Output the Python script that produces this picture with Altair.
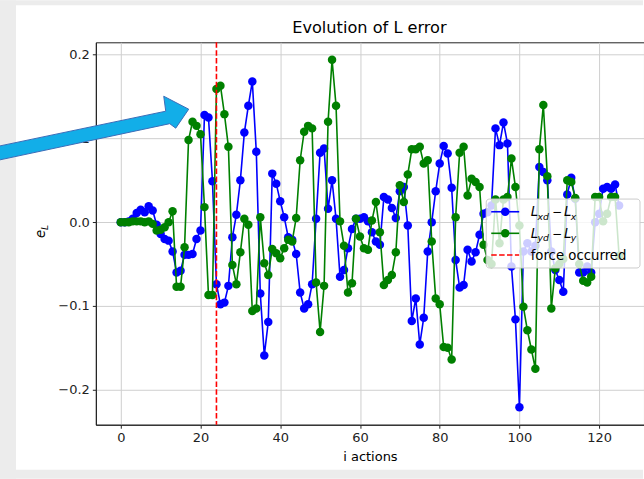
import altair as alt
import pandas as pd

# ---- data -------------------------------------------------------------
steps = list(range(126))

err_x = [
    0.0, 0.0, 0.001, 0.004, 0.011, 0.015, 0.012, 0.019, 0.014, -0.003,
    -0.014, -0.02, -0.022, -0.035, -0.06, -0.058, -0.039, -0.039, -0.038, -0.02,
    -0.01, 0.128, 0.125, 0.049, -0.074, -0.098, -0.096, -0.076, -0.018, 0.009,
    0.05, 0.107, 0.139, 0.168, 0.084, -0.085, -0.159, -0.119, 0.058, 0.046,
    0.025, 0.006, -0.018, -0.021, -0.038, -0.084, -0.103, -0.098, -0.074, 0.004,
    0.083, 0.088, 0.016, 0.05, 0.004, -0.065, -0.057, -0.031, -0.008, 0.004,
    0.004, 0.006, 0.001, -0.012, -0.023, -0.027, 0.030, 0.027, 0.017, 0.005,
    0.037, 0.042, -0.004, -0.118, -0.091, -0.146, -0.114, -0.035, 0.0, 0.037,
    0.070, 0.091, 0.082, 0.041, -0.045, -0.078, -0.075, -0.033, -0.047, -0.036,
    -0.015, 0.010, 0.012, 0.02, 0.112, 0.092, 0.119, 0.094, -0.053, -0.116,
    -0.221, -0.035, -0.025, -0.035, -0.028, 0.066, 0.06, 0.05, -0.035, -0.057,
    -0.069, -0.083, 0.033, 0.053, 0.028, -0.06, -0.06, -0.053, -0.06, 0.0,
    0.01, 0.04, 0.042, 0.04, 0.045, 0.02,
]

err_y = [
    0.0, 0.0, 0.0, 0.001, 0.001, 0.001, 0.0, 0.001, -0.002, -0.01,
    -0.009, -0.006, 0.0, 0.013, -0.077, -0.077, -0.03, 0.098, 0.12, 0.115,
    0.105, 0.018, -0.087, -0.087, 0.159, 0.163, 0.129, 0.09, -0.051, -0.074,
    -0.036, 0.004, -0.003, -0.106, -0.103, 0.006, -0.049, -0.063, -0.032, -0.037,
    -0.043, -0.031, -0.021, -0.023, 0.005, 0.074, 0.108, 0.115, 0.112, -0.072,
    -0.131, -0.076, 0.120, 0.194, 0.139, 0.001, -0.028, -0.084, -0.073, 0.004,
    -0.017, -0.031, -0.033, 0.002, 0.024, -0.012, -0.075, -0.069, -0.063, -0.036,
    0.044, 0.024, 0.057, 0.087, 0.087, 0.090, 0.070, 0.074, -0.023, -0.091,
    -0.098, -0.149, -0.150, -0.164, 0.006, 0.083, 0.090, 0.032, 0.052, 0.048,
    0.042, -0.027, -0.045, -0.05, 0.027, -0.025, 0.027, 0.03, 0.076, 0.042,
    -0.004, -0.101, -0.129, -0.152, -0.175, 0.087, 0.140, 0.055, -0.103, -0.055,
    -0.05, -0.044, 0.050, 0.048, 0.029, -0.05, -0.07, -0.072, -0.065, 0.03,
    0.03, 0.001, 0.01, 0.03, 0.03, -0.04,
]

force_step = [24]

x_ticks = [0, 20, 40, 60, 80, 100, 120]
y_ticks = [-0.2, -0.1, 0.0, 0.1, 0.2]

# ---- scales (matplotlib-like 5% margins) -----------------------------
def padded(lo, hi, frac=0.05):
    r = hi - lo
    return [lo - frac * r, hi + frac * r]

x_dom = padded(min(steps), max(steps))
y_dom = padded(min(err_x + err_y), max(err_x + err_y))

FONT = "DejaVu Sans"
W, H = 549, 383
PAD_L, PAD_T = 96, 42
MARK_SIZE = 72

df = pd.DataFrame({"i": steps, "ex": err_x, "ey": err_y})
one = pd.DataFrame({"k": [0]})

xs = alt.Scale(domain=x_dom, nice=False, zero=False)
ys = alt.Scale(domain=y_dom, nice=False, zero=False)

x_axis = alt.Axis(values=x_ticks, title="i actions", grid=True, format="d",
                  titlePadding=6)
y_axis = alt.Axis(values=y_ticks, title=None, grid=True,
                  labelExpr="datum.value == 0 ? '0.0' : replace(format(datum.value, '.1f'), '-', '\u2212')")

base = alt.Chart(df)

blue_line = base.mark_line(color="#0000ff", strokeWidth=1.6).encode(
    x=alt.X("i:Q", scale=xs, axis=x_axis),
    y=alt.Y("ex:Q", scale=ys, axis=y_axis),
)
blue_pts = base.mark_point(filled=True, color="#0000ff", size=MARK_SIZE, opacity=1).encode(
    x="i:Q", y="ex:Q")
green_line = base.mark_line(color="#008000", strokeWidth=1.6).encode(
    x="i:Q", y="ey:Q")
green_pts = base.mark_point(filled=True, color="#008000", size=MARK_SIZE, opacity=1).encode(
    x="i:Q", y="ey:Q")

force = alt.Chart(pd.DataFrame({"i": force_step})).mark_rule(
    color="#ff0000", strokeWidth=1.6, strokeDash=[5.5, 2.4]).encode(x="i:Q")

# ---- screenshot frame strips -----------------------------------------
strip_col = "#ececec"
left_strip = alt.Chart(one).mark_rect(color=strip_col).encode(
    x=alt.value(-PAD_L), x2=alt.value(16 - PAD_L),
    y=alt.value(-PAD_T), y2=alt.value(479 - PAD_T))
top_strip = alt.Chart(one).mark_rect(color=strip_col).encode(
    x=alt.value(-PAD_L), x2=alt.value(644 - PAD_L),
    y=alt.value(-PAD_T), y2=alt.value(5 - PAD_T))
bottom_strip = alt.Chart(one).mark_rect(color=strip_col).encode(
    x=alt.value(-PAD_L), x2=alt.value(644 - PAD_L),
    y=alt.value(470 - PAD_T), y2=alt.value(479 - PAD_T))

# ---- callout arrow (custom symbol path in unit square) ---------------
arrow_path = ("M -1.0 0.19 L 0.72 -0.17 L 0.70 -0.32 L 0.95 -0.19 "
              "L 0.82 0.0 L 0.76 -0.045 L -1.0 0.33 Z")
arrow = alt.Chart(one).mark_point(
    shape=arrow_path, filled=True, fill="#12aee8", fillOpacity=1,
    stroke="#3b6cb8", strokeWidth=1, size=40000, opacity=1).encode(
    x=alt.value(94 - PAD_L), y=alt.value(128 - PAD_T))


def txt(s, x, y, size=13.3, style="normal", angle=0, align="left",
        baseline="alphabetic", color="#000000"):
    return alt.Chart(one).mark_text(
        text=s, font=FONT, fontSize=size, fontStyle=style, angle=angle,
        align=align, baseline=baseline, color=color).encode(
        x=alt.value(x - PAD_L), y=alt.value(y - PAD_T))


# ---- title and y axis label e_L --------------------------------------
title = txt("Evolution of L error", 370, 28, size=16.2, align="center",
            baseline="middle")
ylab = [
    txt("e", 45, 238, style="italic", angle=270),
    txt("L", 48, 230, size=9.3, style="italic", angle=270),
]

# ---- legend -----------------------------------------------------------
leg_box = alt.Chart(one).mark_rect(
    fill="#ffffff", fillOpacity=0.8, stroke="#cccccc", strokeWidth=1,
    cornerRadius=3).encode(
    x=alt.value(487 - PAD_L), x2=alt.value(641 - PAD_L),
    y=alt.value(199 - PAD_T), y2=alt.value(268 - PAD_T))

rows = [211.7, 233.3, 255.0]
leg = [leg_box]
for col, ry in zip(["#0000ff", "#008000"], rows[:2]):
    leg.append(alt.Chart(one).mark_rule(color=col, strokeWidth=1.6).encode(
        x=alt.value(492 - PAD_L), x2=alt.value(520 - PAD_L),
        y=alt.value(ry - PAD_T)))
    leg.append(alt.Chart(one).mark_point(filled=True, color=col, size=MARK_SIZE,
                                         opacity=1).encode(
        x=alt.value(506 - PAD_L), y=alt.value(ry - PAD_T)))
leg.append(alt.Chart(one).mark_rule(color="#ff0000", strokeWidth=1.6,
                                    strokeDash=[5.5, 2.4]).encode(
    x=alt.value(492 - PAD_L), x2=alt.value(520 - PAD_L),
    y=alt.value(rows[2] - PAD_T)))

for ry, a, b in [(rows[0], "xd", "x"), (rows[1], "yd", "y")]:
    bl = ry + 4.6
    leg += [
        txt("L", 531.5, bl, style="italic"),
        txt(a, 538.4, bl + 3.2, size=9.3, style="italic"),
        txt("\u2212", 557.8, bl, size=12, align="center"),
        txt("L", 565.0, bl, style="italic"),
        txt(b, 571.6, bl + 3.2, size=9.3, style="italic"),
    ]
leg.append(txt("force occurred", 531.5, rows[2] + 4.6))

chart = alt.layer(
    left_strip, top_strip, bottom_strip,
    blue_line, blue_pts, green_line, green_pts, force,
    *leg, *ylab, title, arrow,
).properties(
    width=W, height=H,
    padding={"left": PAD_L, "top": PAD_T, "right": 0, "bottom": 479 - PAD_T - H},
    autosize=alt.AutoSizeParams(type="none"),
    background="#ffffff",
).configure_view(
    stroke="#222222", strokeWidth=1,
).configure_axis(
    labelFont=FONT, titleFont=FONT, labelFontSize=13, titleFontSize=13,
    labelColor="#222222", titleColor="#000000", titleFontWeight="normal",
    domainColor="#222222", domainWidth=1, tickColor="#222222", tickSize=3.5,
    tickWidth=1, gridColor="#cfcfcf", gridWidth=1, labelPadding=3,
)

chart.save("out.html", embed_options={"renderer": "svg", "actions": False})
